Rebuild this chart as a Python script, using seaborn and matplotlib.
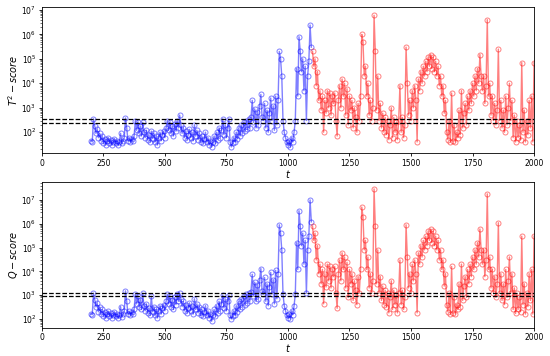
import numpy as np
import matplotlib
matplotlib.use("Agg")
import matplotlib.pyplot as plt
import seaborn as sns

# time index (train part in blue, test part in red), sampled every 5 steps
t_train = np.arange(200, 1100, 5)
t_test = np.arange(1100, 2001, 5)

# T^2 statistic
t2_train = [
    45, 40, 350, 180, 90, 130, 60, 90, 45, 70, 35, 55, 30, 45, 60, 35, 50, 30, 40, 55,
    35, 45, 30, 40, 90, 35, 45, 60, 380, 150, 45, 60, 40, 55, 45, 70, 300, 120, 250, 90,
    180, 70, 250, 100, 60, 120, 50, 80, 40, 110, 55, 90, 40, 70, 30, 60, 100, 45, 80, 110,
    60, 150, 300, 120, 250, 90, 180, 70, 220, 110, 300, 150, 500, 200, 90, 150, 60, 110, 50, 80,
    130, 60, 100, 45, 200, 70, 120, 50, 90, 40, 70, 35, 55, 100, 40, 60, 30, 45, 25, 40,
    70, 35, 100, 50, 150, 60, 120, 350, 80, 200, 60, 150, 350, 40, 25, 35, 60, 40, 100, 55,
    150, 70, 200, 90, 250, 110, 300, 130, 350, 150, 400, 2000, 250, 900, 150, 700, 200, 1200, 3500, 400,
    300, 1500, 150, 800, 100, 600, 2500, 300, 1200, 120, 3000, 200, 2000, 2e5, 1e5, 2e4, 300, 100, 60, 40,
    30, 45, 25, 60, 40, 100, 300, 4e4, 3e3, 8e5, 2e5, 3e4, 1e5, 5e3, 5e4, 300, 2e4, 8e4, 2.4e6, 3e5,
]
t2_test = [
    2e5, 5e4, 1e5, 8e3, 3e4, 2e3, 5e3, 800, 3e3, 100, 2e3, 600, 5e3, 1e3, 4e3, 500, 3e3, 1.5e3, 4e3, 300,
    70, 2e3, 8e3, 1e3, 1.5e4, 3e3, 1e4, 500, 6e3, 200, 3e3, 800, 2e3, 150, 1e3, 400, 100, 1.5e3, 300, 3e3,
    1e6, 5e5, 2e4, 5e4, 3e3, 1e4, 500, 2e3, 300, 1e3, 6e6, 2e5, 800, 2e4, 300, 1.5e3, 150, 600, 100, 400,
    80, 300, 50, 200, 1e3, 60, 400, 100, 250, 50, 300, 8e3, 100, 400, 60, 200, 3e5, 1e4, 500, 2e3,
    300, 5e3, 1e3, 8e3, 2e3, 40, 1.5e4, 5e3, 3e4, 1e4, 5e4, 2e4, 8e4, 3e4, 1.2e5, 5e4, 1.5e5, 4e4, 1.2e5, 3e4,
    8e4, 2e4, 5e4, 8e3, 2e4, 3e3, 8e3, 600, 2e3, 100, 50, 300, 40, 4e3, 45, 200, 40, 100, 60, 800,
    80, 5e3, 150, 600, 1.5e3, 200, 3e3, 800, 5e3, 1.5e3, 1e4, 3e3, 2e4, 5e3, 4e4, 1e4, 1.5e5, 2e4, 5e3, 2e4,
    1.5e3, 8e3, 4e6, 3e3, 1e4, 500, 3e3, 300, 1.5e3, 200, 800, 2.5e5, 300, 2e3, 150, 800, 100, 3e3, 200, 1e3,
    1e4, 300, 2e3, 60, 500, 40, 300, 60, 200, 50, 7e4, 100, 800, 40, 300, 80, 2e3, 150, 3e3, 40,
    7e4,
]

# Q statistic (SPE)
q_train = [
    160, 150, 1200, 650, 320, 450, 200, 320, 160, 250, 130, 200, 110, 160, 210, 130, 180, 110, 140, 200,
    130, 160, 110, 140, 330, 120, 160, 210, 1500, 550, 160, 210, 140, 200, 160, 250, 1100, 430, 900, 330,
    650, 250, 1200, 360, 220, 430, 180, 290, 140, 900, 200, 330, 140, 250, 110, 220, 360, 160, 290, 400,
    220, 550, 1100, 430, 900, 330, 650, 250, 800, 400, 1100, 550, 1200, 700, 330, 550, 220, 400, 180, 290,
    470, 220, 360, 160, 700, 250, 430, 180, 330, 140, 250, 130, 200, 360, 140, 220, 110, 160, 80, 140,
    250, 130, 360, 180, 550, 220, 430, 1000, 290, 700, 220, 550, 1000, 140, 100, 130, 220, 140, 360, 200,
    550, 250, 700, 330, 900, 400, 1100, 470, 1200, 550, 1400, 7500, 900, 3500, 550, 2700, 700, 4500, 1.3e4, 1500,
    1100, 5500, 550, 3000, 360, 2200, 9000, 1100, 4500, 430, 1.1e4, 700, 8000, 9e5, 4e5, 8e4, 1100, 360, 220, 140,
    110, 160, 100, 220, 150, 360, 1100, 1.6e5, 1.2e4, 3.5e6, 8e5, 1.2e5, 4e5, 2e4, 2e5, 1200, 8e4, 3e5, 1e7, 1.2e6,
]
q_test = [
    8e5, 2e5, 4e5, 3e4, 1.2e5, 8e3, 2e4, 3e3, 1.2e4, 430, 8e3, 2.2e3, 2e4, 4e3, 1.6e4, 2e3, 1.2e4, 6e3, 1.6e4, 1.2e3,
    280, 8e3, 3e4, 4e3, 6e4, 1.2e4, 4e4, 2e3, 2.4e4, 800, 1.2e4, 3e3, 8e3, 600, 4e3, 1.6e3, 400, 6e3, 1.2e3, 1.2e4,
    5e6, 2e6, 8e4, 2e5, 1.2e4, 4e4, 2e3, 8e3, 1.2e3, 4e3, 2.9e7, 8e5, 3e3, 8e4, 1.2e3, 6e3, 600, 2.4e3, 400, 1.6e3,
    330, 1.2e3, 180, 800, 4e3, 250, 1.6e3, 400, 1e3, 180, 1.2e3, 3e4, 400, 1.6e3, 250, 800, 9e5, 4e4, 2e3, 8e3,
    1.2e3, 2e4, 4e3, 3e4, 8e3, 180, 6e4, 2e4, 1.2e5, 4e4, 2e5, 8e4, 3e5, 1.2e5, 5e5, 2e5, 6e5, 1.6e5, 5e5, 1.2e5,
    3e5, 8e4, 2e5, 3e4, 8e4, 1.2e4, 3e4, 2.4e3, 8e3, 400, 200, 1.2e3, 160, 1.6e4, 180, 800, 160, 400, 250, 3e3,
    330, 2e4, 600, 2.4e3, 6e3, 800, 1.2e4, 3e3, 2e4, 6e3, 4e4, 1.2e4, 8e4, 2e4, 1.6e5, 4e4, 6e5, 8e4, 2e4, 8e4,
    6e3, 3e4, 1.8e7, 1.2e4, 4e4, 2e3, 1.2e4, 1.2e3, 6e3, 800, 3e3, 1.1e6, 1.2e3, 8e3, 600, 3e3, 400, 1.2e4, 800, 4e3,
    4e4, 1.2e3, 8e3, 250, 2e3, 170, 1.2e3, 250, 800, 200, 3e5, 400, 3e3, 160, 1.2e3, 330, 8e3, 600, 1.2e4, 160,
    3e5,
]

# control limits (dashed)
t2_limits = [230, 360]
q_limits = [900, 1250]

fig = plt.figure(figsize=(5.5, 3.56), dpi=100)
ax1 = fig.add_axes([0.076, 0.570, 0.895, 0.410])
ax2 = fig.add_axes([0.076, 0.079, 0.895, 0.410])

line_kw = dict(marker="o", markerfacecolor="none", markersize=3.6, markeredgewidth=0.7,
               linewidth=1.0, alpha=0.5, sort=False, estimator=None)

panels = [
    (ax1, t2_train, t2_test, t2_limits, r"$T^2-score$", (14, 1.3e7)),
    (ax2, q_train, q_test, q_limits, r"$Q-score$", (42, 5.7e7)),
]
for ax, train, test, limits, label, ylim in panels:
    sns.lineplot(x=t_train, y=train, color="blue", markeredgecolor="blue", ax=ax, **line_kw)
    sns.lineplot(x=t_test, y=test, color="red", markeredgecolor="red", ax=ax, **line_kw)
    for lim in limits:
        ax.axhline(lim, color="black", linestyle="--", linewidth=0.9)
    ax.set_yscale("log")
    ax.set_ylim(*ylim)
    ax.set_xlim(0, 2000)
    ax.set_xticks(np.arange(0, 2001, 250))
    ax.tick_params(labelsize=5.5, length=2.5, width=0.6, pad=1.5)
    ax.tick_params(which="minor", length=1.5, width=0.4)
    ax.set_xlabel(r"$t$", fontsize=7)
    ax.xaxis.set_label_coords(0.5, -0.1)
    ax.set_ylabel(label, fontsize=7, labelpad=1)
    for sp in ax.spines.values():
        sp.set_linewidth(0.6)

fig.savefig("out.png", dpi=100)
